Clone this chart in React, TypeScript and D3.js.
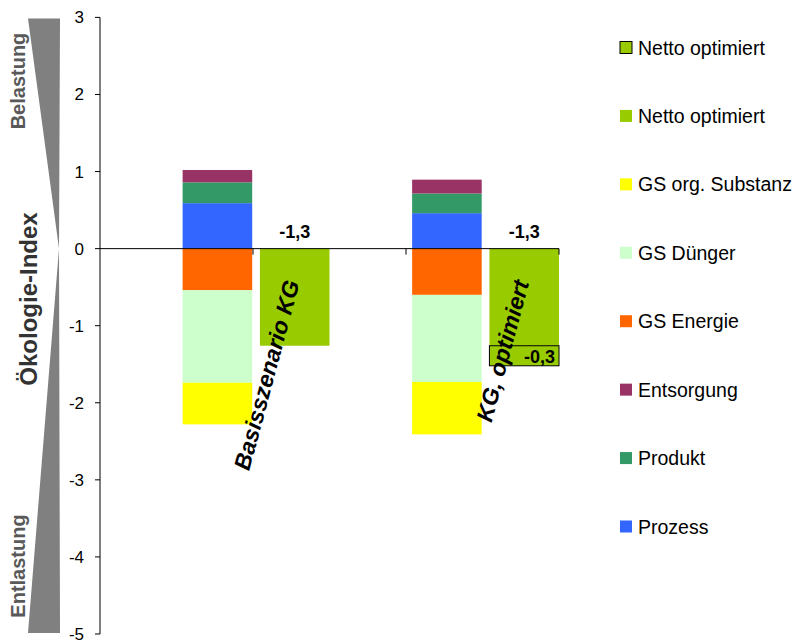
import React from "react";
import * as d3 from "d3";

// values (Ökologie-Index per component)
const categories = ["Basisszenario KG", "KG, optimiert"];
const prozess = [0.59, 0.46];
const produkt = [0.27, 0.255];
const entsorgung = [0.16, 0.18];
const gsEnergie = [-0.54, -0.6];
const gsDuenger = [-1.2, -1.13];
const gsSubstanz = [-0.54, -0.68];
const netto = [-1.26, -1.26];
const nettoOptimiert = [0, -0.26];
const nettoLabels = ["-1,3", "-1,3"];
const optLabels = ["", "-0,3"];
const yTicks = [3, 2, 1, 0, -1, -2, -3, -4, -5];

const legendItems = [
  { name: "Netto optimiert", color: "#99CC00", border: true },
  { name: "Netto optimiert", color: "#99CC00", border: false },
  { name: "GS org. Substanz", color: "#FFFF00", border: false },
  { name: "GS Dünger", color: "#CCFFCC", border: false },
  { name: "GS Energie", color: "#FF6600", border: false },
  { name: "Entsorgung", color: "#993366", border: false },
  { name: "Produkt", color: "#339966", border: false },
  { name: "Prozess", color: "#3366FF", border: false },
];

const positiveSeries = [
  { key: "Prozess", values: prozess, color: "#3366FF" },
  { key: "Produkt", values: produkt, color: "#339966" },
  { key: "Entsorgung", values: entsorgung, color: "#993366" },
];
const negativeSeries = [
  { key: "GS Energie", values: gsEnergie, color: "#FF6600" },
  { key: "GS Dünger", values: gsDuenger, color: "#CCFFCC" },
  { key: "GS org. Substanz", values: gsSubstanz, color: "#FFFF00" },
];

const FONT = "'Liberation Sans', Arial, sans-serif";

export default function App() {
  const width = 793;
  const height = 642;
  const axisX = 100;
  const axisEnd = 559;

  const y = d3.scaleLinear().domain([-5, 3]).range([634, 17.4]);
  const x = d3
    .scaleBand()
    .domain(categories)
    .range([axisX, axisEnd])
    .paddingInner(0.36)
    .paddingOuter(0.18)
    .align(1);
  const xSub = d3
    .scaleBand()
    .domain(["stack", "net"])
    .range([0, x.bandwidth()])
    .paddingInner(0.1);
  // category axis divisions on the zero line
  const xDiv = d3.scaleLinear().domain([0, 3]).range([axisX, axisEnd]);

  // stacked rects: accumulate each sign separately
  const rects: { x: number; y0: number; y1: number; color: string; key: string }[] = [];
  categories.forEach((c, i) => {
    const bx = (x(c) ?? 0) + (xSub("stack") ?? 0);
    let pos = 0;
    positiveSeries.forEach((s) => {
      const v = s.values[i];
      rects.push({ x: bx, y0: pos, y1: pos + v, color: s.color, key: s.key + i });
      pos += v;
    });
    let neg = 0;
    negativeSeries.forEach((s) => {
      const v = s.values[i];
      rects.push({ x: bx, y0: neg, y1: neg + v, color: s.color, key: s.key + i });
      neg += v;
    });
  });

  const bw = xSub.bandwidth();
  const legendY = d3.scalePoint<number>().domain(d3.range(legendItems.length)).range([47.5, 526.5]);

  const gray = y(3) + 1;
  const grayBottom = y(-5) - 1;
  const shape = `M28,${gray} L60,${gray} L59,${y(0)} L60,${grayBottom} L28,${grayBottom} L59,${y(0)} Z`;

  return (
    <svg
      width={width}
      height={height}
      style={{ position: "absolute", left: 0, top: 0, background: "#fff" }}
      fontFamily={FONT}
    >
      {/* Belastung / Entlastung wedge */}
      <path d={shape} fill="#808080" />
      <text
        transform={`translate(25,81) rotate(-90)`}
        textAnchor="middle"
        fontSize={20}
        fontWeight="bold"
        fill="#595959"
      >
        Belastung
      </text>
      <text
        transform={`translate(25,566) rotate(-90)`}
        textAnchor="middle"
        fontSize={20}
        fontWeight="bold"
        fill="#595959"
      >
        Entlastung
      </text>
      <text
        transform={`translate(37,299) rotate(-90)`}
        textAnchor="middle"
        fontSize={24}
        fontWeight="bold"
        fill="#333"
      >
        Ökologie-Index
      </text>

      {/* stacked components */}
      {rects.map((r) => (
        <rect
          key={r.key}
          x={r.x}
          y={Math.min(y(r.y0), y(r.y1))}
          width={bw}
          height={Math.abs(y(r.y0) - y(r.y1))}
          fill={r.color}
        />
      ))}

      {/* netto bars */}
      {categories.map((c, i) => {
        const nx = (x(c) ?? 0) + (xSub("net") ?? 0);
        const top = y(0);
        const mid = y(netto[i]);
        const bot = y(netto[i] + nettoOptimiert[i]);
        return (
          <g key={c}>
            <rect x={nx} y={top} width={bw} height={mid - top} fill="#99CC00" />
            {nettoOptimiert[i] !== 0 && (
              <rect x={nx} y={mid} width={bw} height={bot - mid} fill="#99CC00" stroke="#000" strokeWidth={1} />
            )}
            <text
              x={nx + bw / 2}
              y={top - 11}
              textAnchor="middle"
              fontSize={18}
              fontWeight="bold"
              fill="#000"
            >
              {nettoLabels[i]}
            </text>
            {optLabels[i] && (
              <text x={nx + bw - 4} y={bot - 3} textAnchor="end" fontSize={18} fontWeight="bold" fill="#000">
                {optLabels[i]}
              </text>
            )}
          </g>
        );
      })}

      {/* zero line with category divisions */}
      <line x1={axisX} x2={axisEnd} y1={y(0)} y2={y(0)} stroke="#000" />
      {d3.range(1, 4).map((k) => (
        <line key={k} x1={xDiv(k)} x2={xDiv(k)} y1={y(0)} y2={y(0) + 6} stroke="#000" />
      ))}

      {/* y axis */}
      <line x1={axisX} x2={axisX} y1={y(3)} y2={y(-5)} stroke="#000" />
      {yTicks.map((t) => (
        <g key={t}>
          <line x1={axisX - 5} x2={axisX} y1={y(t)} y2={y(t)} stroke="#000" />
          <text x={axisX - 16} y={y(t) + 6} textAnchor="end" fontSize={17} fill="#000">
            {t}
          </text>
        </g>
      ))}

      {/* category labels, rotated */}
      {categories.map((c) => {
        const nx = (x(c) ?? 0) + (xSub("net") ?? 0) + bw / 2 + 5;
        return (
          <text
            key={"lab" + c}
            transform={`translate(${nx},${y(0) + 34}) rotate(-75)`}
            textAnchor="end"
            fontSize={23}
            fontWeight="bold"
            fontStyle="italic"
            fill="#000"
          >
            {c}
          </text>
        );
      })}

      {/* legend */}
      {legendItems.map((l, i) => (
        <g key={i} transform={`translate(620,${legendY(i)})`}>
          <rect
            x={0}
            y={-6}
            width={12}
            height={12}
            fill={l.color}
            stroke={l.border ? "#000" : "none"}
            strokeWidth={1}
          />
          <text x={18} y={7} fontSize={19.5} fill="#000">
            {l.name}
          </text>
        </g>
      ))}
    </svg>
  );
}
